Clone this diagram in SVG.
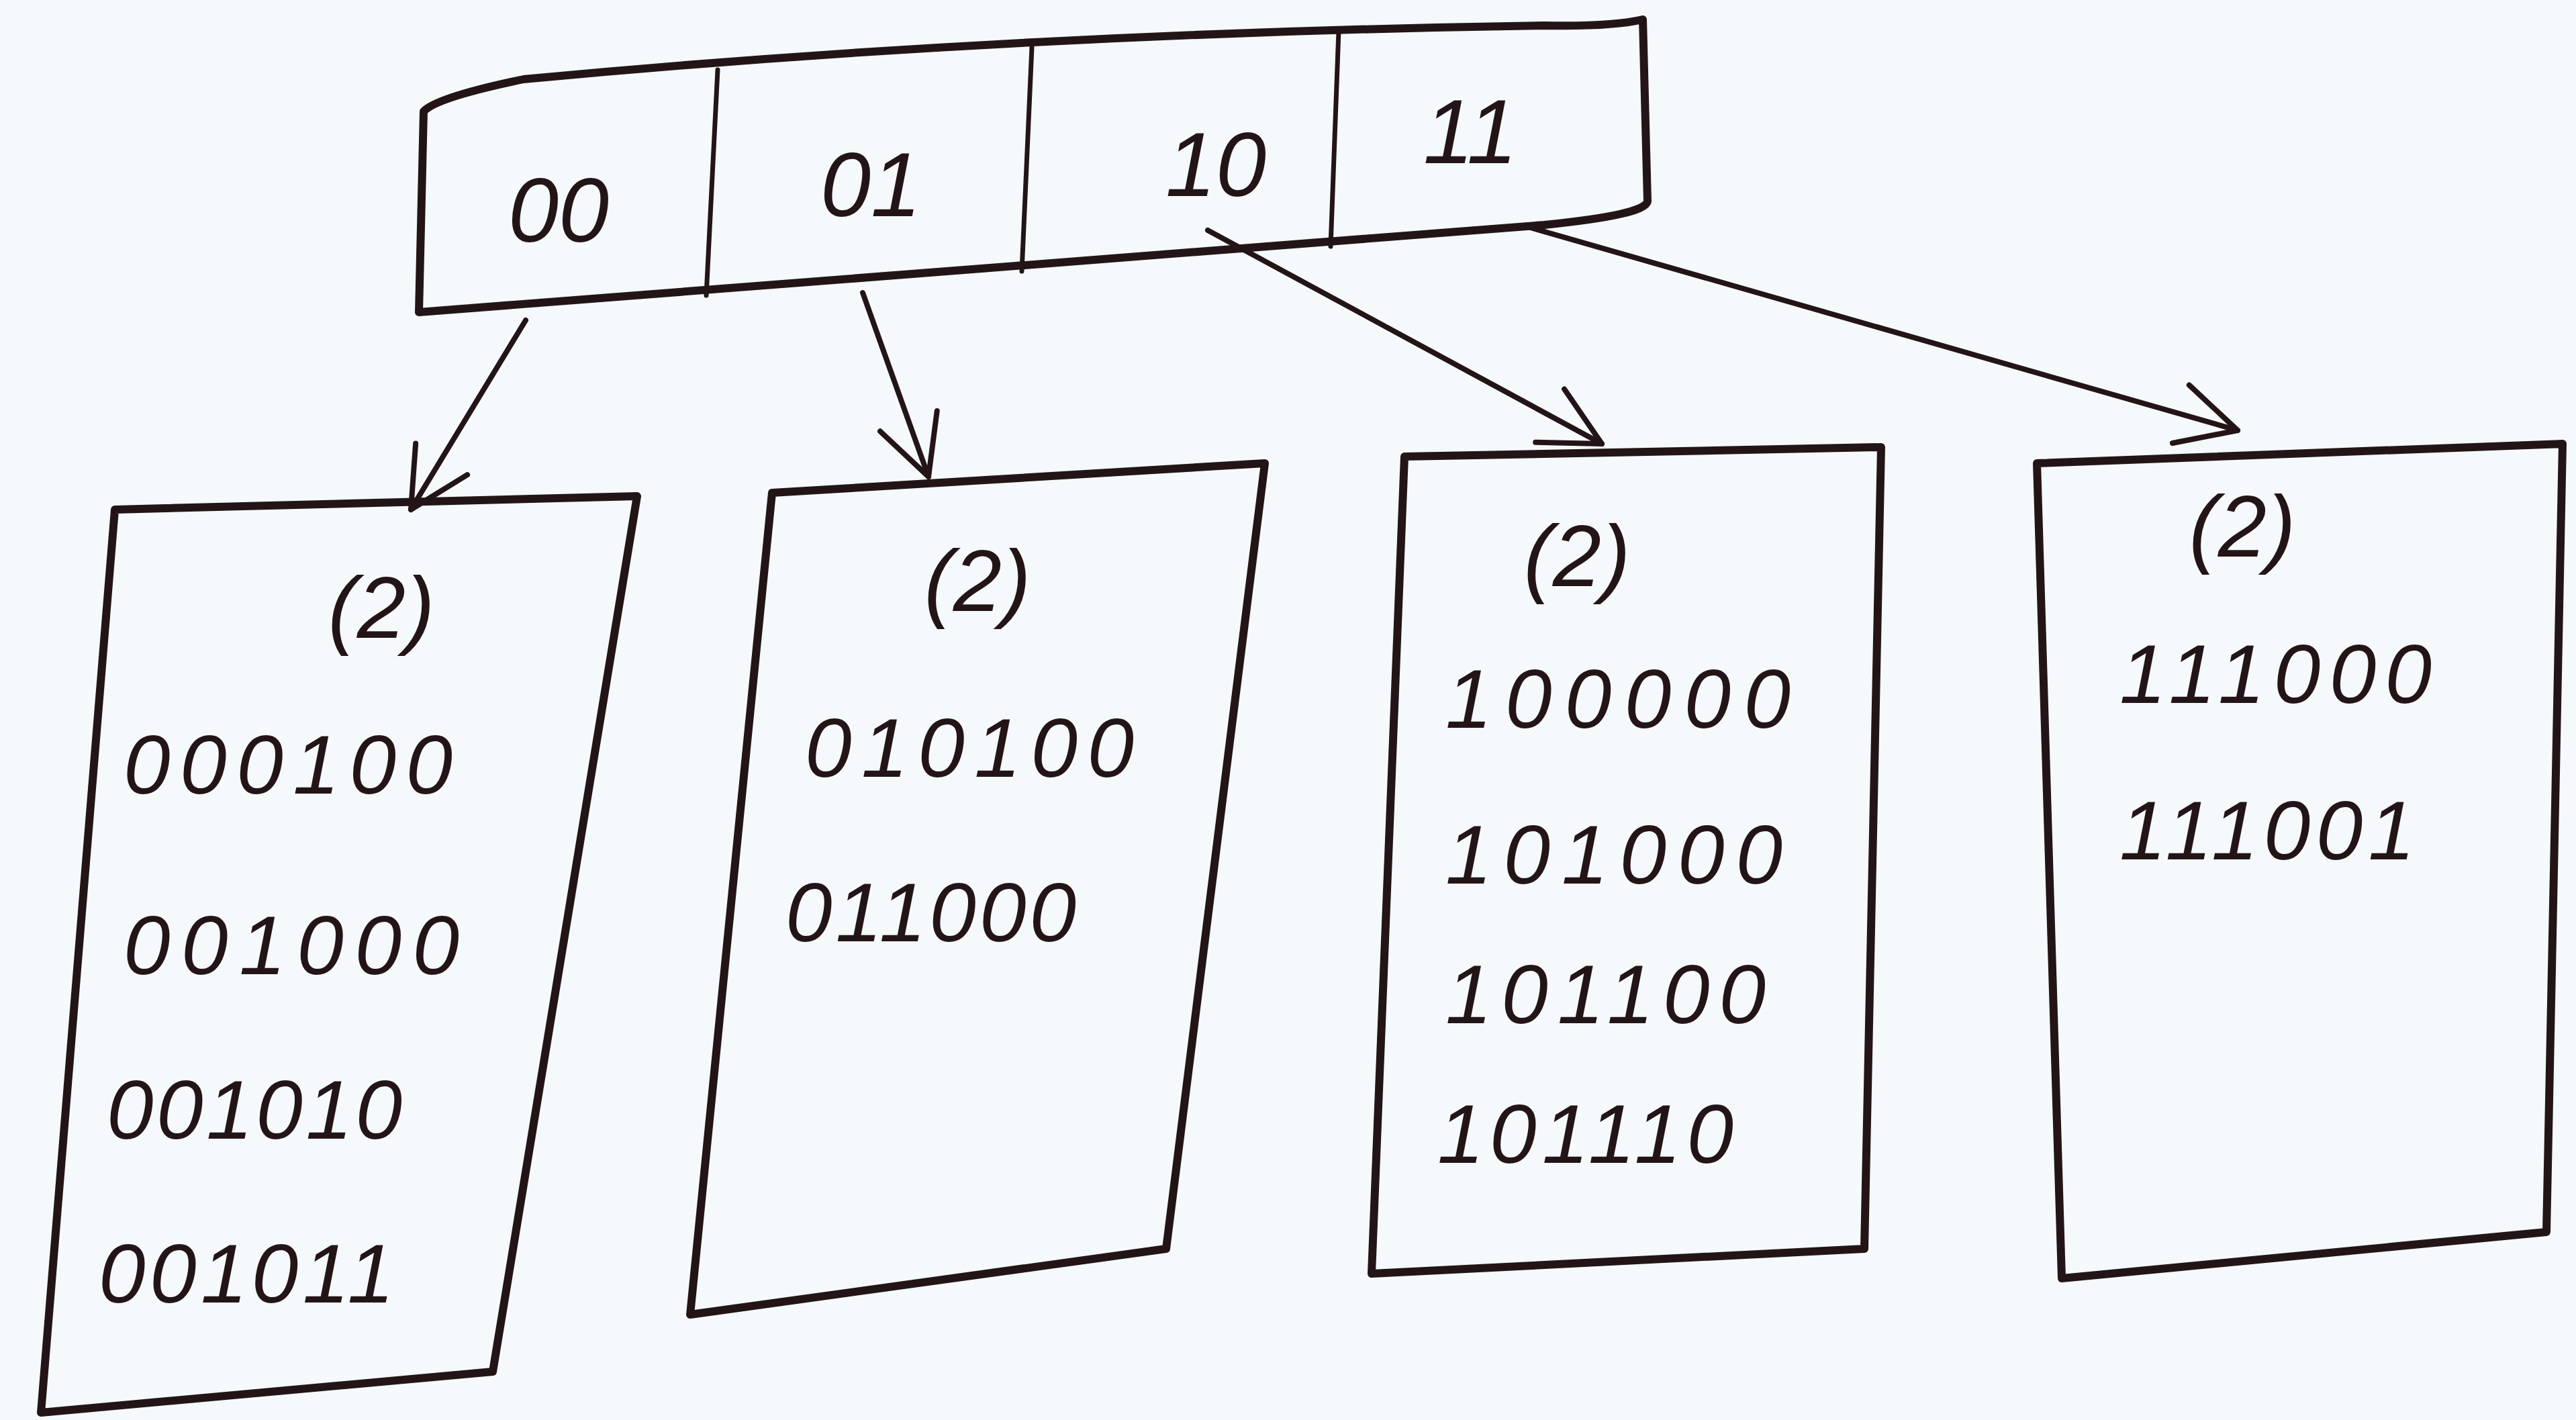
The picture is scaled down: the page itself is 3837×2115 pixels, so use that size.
<svg xmlns="http://www.w3.org/2000/svg" width="3837" height="2115" viewBox="0 0 3837 2115">
<style>
.bg{fill:#f5f9fc}
.box{fill:none;stroke:#231517;stroke-width:12;stroke-linejoin:round;stroke-linecap:round}
.div{fill:none;stroke:#231517;stroke-width:7;stroke-linecap:round}
.con{fill:none;stroke:#231517;stroke-width:8;stroke-linecap:round}
.t{font-family:"Liberation Sans",Arial,sans-serif;font-style:italic;fill:#231517;font-size:125px}
.lab{font-size:135px;text-anchor:middle}
.d{font-size:130px;text-anchor:middle}
</style>
<defs>
<marker id="ah" viewBox="0 0 20 20" refX="18" refY="10" markerWidth="20" markerHeight="20" markerUnits="userSpaceOnUse" orient="auto" overflow="visible">
<path d="M-70,-35 L18,10 L-70,55" fill="none" stroke="#231517" stroke-width="8" stroke-linecap="round" stroke-linejoin="round"/>
</marker>
</defs>
<rect class="bg" x="0" y="0" width="3837" height="2115"/>
<g id="directory">
<path class="box" d="M631,166 Q650,145 780,118 Q1500,50 2300,38 Q2400,40 2447,29 L2454,300 Q2450,320 2300,335 Q1500,395 624,465 Z"/>
<line class="div" x1="1069" y1="104" x2="1052" y2="440"/>
<line class="div" x1="1537" y1="70" x2="1522" y2="404"/>
<line class="div" x1="1994" y1="46" x2="1982" y2="367"/>
<text class="t lab" x="832" y="360">00</text>
<text class="t lab" x="1297" y="322">01</text>
<text class="t lab" x="1811" y="292">10</text>
<text class="t lab" x="2190" y="243">11</text>
</g>
<g id="bucket1">
<path class="box" d="M171,759 L949,739 L734,2043 L61,2104 Z"/>
<text class="t d" x="568" y="950">(2)</text>
<text class="t" x="184" y="1182" textLength="490" lengthAdjust="spacing">000100</text>
<text class="t" x="184" y="1451" textLength="500" lengthAdjust="spacing">001000</text>
<text class="t" x="159" y="1696" textLength="440" lengthAdjust="spacing">001010</text>
<text class="t" x="147" y="1940" textLength="440" lengthAdjust="spacing">001011</text>
</g>
<g id="bucket2">
<path class="box" d="M1150,734 L1884,690 L1737,1860 L1028,1958 Z"/>
<text class="t d" x="1456" y="910">(2)</text>
<text class="t" x="1199" y="1157" textLength="490" lengthAdjust="spacing">010100</text>
<text class="t" x="1170" y="1402" textLength="433" lengthAdjust="spacing">011000</text>
</g>
<g id="bucket3">
<path class="box" d="M2092,680 L2802,666 L2777,1860 L2043,1897 Z"/>
<text class="t d" x="2349" y="873">(2)</text>
<text class="t" x="2153" y="1084" textLength="514" lengthAdjust="spacing">100000</text>
<text class="t" x="2153" y="1316" textLength="502" lengthAdjust="spacing">101000</text>
<text class="t" x="2153" y="1524" textLength="477" lengthAdjust="spacing">101100</text>
<text class="t" x="2141" y="1732" textLength="441" lengthAdjust="spacing">101110</text>
</g>
<g id="bucket4">
<path class="box" d="M3034,690 L3817,661 L3793,1835 L3071,1904 Z"/>
<text class="t d" x="3340" y="829">(2)</text>
<text class="t" x="3157" y="1047" textLength="465" lengthAdjust="spacing">111000</text>
<text class="t" x="3157" y="1280" textLength="440" lengthAdjust="spacing">111001</text>
</g>
<g id="connectors">
<line class="con" x1="783" y1="477" x2="612" y2="759" marker-end="url(#ah)"/>
<line class="con" x1="1285" y1="436" x2="1383" y2="710" marker-end="url(#ah)"/>
<line class="con" x1="1799" y1="343" x2="2386" y2="661" marker-end="url(#ah)"/>
<line class="con" x1="2276" y1="338" x2="3333" y2="641" marker-end="url(#ah)"/>
</g>
</svg>
